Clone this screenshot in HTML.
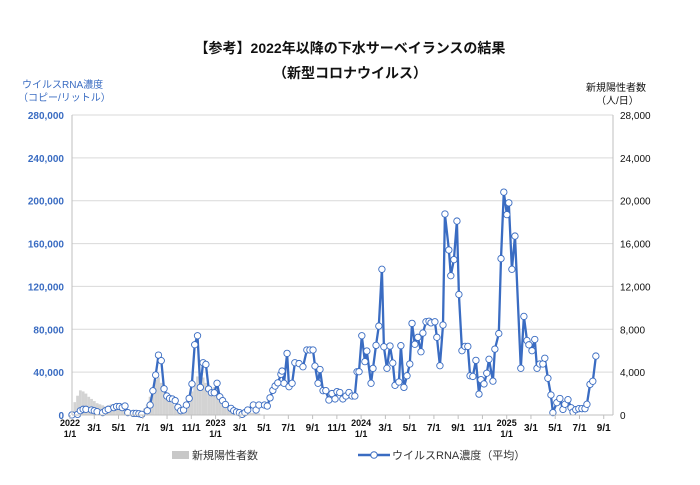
<!DOCTYPE html>
<html><head><meta charset="utf-8">
<style>
body{margin:0;background:#fff;}
svg{display:block;font-family:"Liberation Sans","Noto Sans CJK JP",sans-serif;}
</style></head>
<body>
<svg id="chart" width="700" height="485" viewBox="0 0 700 485">
<text x="350" y="53" text-anchor="middle" font-size="14" font-weight="bold" fill="#111">【参考】2022年以降の下水サーベイランスの結果</text>
<text x="350" y="78" text-anchor="middle" font-size="14" font-weight="bold" fill="#111">（新型コロナウイルス）</text>
<text x="22" y="88" font-size="10" fill="#3a6cc2">ウイルスRNA濃度</text>
<text x="18" y="101" font-size="10" fill="#3a6cc2">（コピー/リットル）</text>
<text x="586" y="91" font-size="10" fill="#111">新規陽性者数</text>
<text x="596" y="104" font-size="10" fill="#111">（人/日）</text>
<g id="grid"></g><g id="bars"></g><g id="line"></g><g id="axes"></g>
<g>
<rect x="172" y="451" width="17" height="8" fill="#c8c8c8"/>
<text x="192" y="459" font-size="11" fill="#333">新規陽性者数</text>
<line x1="358" y1="455" x2="390" y2="455" stroke="#3a6cc2" stroke-width="2.5"/>
<circle cx="374" cy="455" r="3.3" fill="#fff" stroke="#3a6cc2" stroke-width="1"/>
<text x="392" y="459" font-size="11" fill="#333">ウイルスRNA濃度（平均）</text>
</g>
</svg>
<script>
const rnaWeeks=[0,2,3,4,5,7,8,9,11,12,13,15,16,17,18,19,20,22,23,24,25,27,28,29,30,31,32,33,34,35,36,37,38,39,40,41,42,43,44,45,46,47,48,49,50,51,52,53,54,55,57,58,59,60,61,62,63,65,66,67,69,70,71,72,72.8,73.8,74.9,75.3,76,77.1,77.8,78.9,79.9,81.4,82.8,84.2,85.3,86.4,87.1,88.2,88.9,90,91,92.1,93.2,94.3,95,96,97.1,98.2,99.3,100.4,101.4,102.2,102.9,103.9,105,105.7,107.2,107.9,109,110,111.1,111.8,112.9,114,115,115.8,117.2,117.9,119,120.1,121.1,121.9,122.9,124,125.1,125.8,126.9,128,128.7,130.1,130.8,131.9,133,133.7,135.1,135.8,136.9,138,138.7,139.8,140.9,141.9,142.7,143.7,144.8,145.9,146.6,147.7,148.7,149.5,150.9,151.6,153,153.8,154.8,155.9,156.6,157.7,158.8,160.9,162,163.1,163.8,164.9,165.9,166.7,167.7,168.8,169.5,170.6,171.7,172.4,173.8,174.9,176,176.7,177.8,178.9,179.6,180.6,181.7,182.8,183.9,184.6,185.7,186.7,187.8];
const rnaValues=[0.1,0.6,4,5.3,5.3,4.7,4,3.1,2.2,4,5.3,6.9,7.9,7.9,6.9,8.4,2.2,1.5,1.5,1.2,0.6,4,9.3,22.6,37.3,55.9,50.7,24.5,17.7,15.5,14.9,13.4,7.2,4,4.7,9.3,15.5,29,65.6,74,25.8,48.8,47.2,24.3,20.8,20.8,29.6,17,13.4,9.8,6.2,4,2.8,2.2,0.6,2.2,4.7,9.3,4.7,9.3,9.3,8.4,16,23,27,30,38,41,29.6,57.5,26.4,29.6,48.8,48,45,60.7,60.7,60.7,45.7,29.6,42.5,22.7,22.7,14,20,15,21.8,21,15,17.7,21,17.7,17.7,40.4,40.4,74,49.8,59.7,29.6,43.5,65,83,136,63.7,43.6,64.4,48.5,27.7,30.8,64.7,25.8,36.6,47.6,85.5,66,72.5,59,76.5,87,87.5,86,87,72.5,46,84,187.6,154,130,145,181,112.5,60,64,64,36.6,36,51,19.5,33,29,39,52,31.6,61.5,76,146,208,187,198,136,167,43.6,92,69.5,65.5,60,70.5,43.6,47.6,47.6,53,34.3,18.7,2.2,11.5,15.4,5.2,10,14.3,6.8,2.8,5,5.9,5.9,5.9,10,28.6,31.5,55].map(v=>v*1000);
const caseValues=[1200,1800,2300,2200,2000,1700,1500,1300,1100,1000,900,800,900,1000,1000,900,800,700,600,400,300,300,300,300,400,600,1000,1700,2500,3300,3500,3000,2500,1800,1400,1100,900,700,600,700,1000,1500,2200,3000,3600,3700,3500,3000,2500,2200,2600,2400,1800,1300,900,600,500,400,300,300,250,250,250,200,200,200,150];
const leftTicks=[0,40000,80000,120000,160000,200000,240000,280000];
const rightTicks=[0,4000,8000,12000,16000,20000,24000,28000];
const xTickMonths=[0,2,4,6,8,10,12,14,16,18,20,22,24,26,28,30,32,34,36,38,40,42,44];
const xTickLabels=["1/1","3/1","5/1","7/1","9/1","11/1","1/1","3/1","5/1","7/1","9/1","11/1","1/1","3/1","5/1","7/1","9/1","11/1","1/1","3/1","5/1","7/1","9/1"];
const NS="http://www.w3.org/2000/svg";
const L=72,R=613,T=115,B=415;
const xDay=d=>70+d*0.3985;
const xWeek=w=>xDay(5+7*w);
const xMonth=m=>xDay(m*30.44);
const yL=v=>B-v/280000*(B-T);
const yR=v=>B-v/28000*(B-T);
function mk(tag,attrs,parent){const e=document.createElementNS(NS,tag);for(const k in attrs)e.setAttribute(k,attrs[k]);parent.appendChild(e);return e;}
const grid=document.getElementById('grid'),axes=document.getElementById('axes'),bars=document.getElementById('bars'),line=document.getElementById('line');
leftTicks.forEach((v,i)=>{
 if(v>0){const g=mk('line',{x1:L,x2:R,y1:yL(v),y2:yL(v),stroke:'#d9d9d9','stroke-width':1},grid);
 
 }
 const t=mk('text',{x:64,y:yL(v)+4,'text-anchor':'end','font-size':10,'font-weight':'bold',fill:'#3a6cc2'},axes);
 t.textContent=v.toLocaleString('en-US');
 
 
});
rightTicks.forEach(v=>{
 const t=mk('text',{x:620,y:yR(v)+4,'font-size':10,fill:'#111'},axes);
 t.textContent=v.toLocaleString('en-US');
 
 
});
const al=mk('line',{x1:L,x2:L,y1:T,y2:B,stroke:'#bfbfbf'},axes);


const ar=mk('line',{x1:R,x2:R,y1:T,y2:B,stroke:'#bfbfbf'},axes);


const ab=mk('line',{x1:L,x2:R,y1:B,y2:B,stroke:'#bfbfbf'},axes);


xTickMonths.forEach((m,i)=>{
 const x=xMonth(m);
 const tk=mk('line',{x1:x,x2:x,y1:B,y2:B+4,stroke:'#bfbfbf'},axes);
 
 
 if(m%12===0){
  const y=mk('text',{x:x,y:426,'text-anchor':'middle','font-size':9,'font-weight':'bold',fill:'#111'},axes);
  y.textContent=String(2022+m/12);
  
  
  const t=mk('text',{x:x,y:437,'text-anchor':'middle','font-size':9,'font-weight':'bold',fill:'#111'},axes);
  t.textContent=xTickLabels[i];
  
  
 }else{
  const t=mk('text',{x:x,y:431,'text-anchor':'middle','font-size':10,'font-weight':'bold',fill:'#111'},axes);
  t.textContent=xTickLabels[i];
  
  
 }
});
caseValues.forEach((v,i)=>{
 const x=xWeek(i+1);
 const b=mk('rect',{x:x-1.4,y:yR(v),width:2.8,height:B-yR(v),fill:'#d3d3d3'},bars);
 
 
});
const pts=rnaWeeks.map((w,i)=>[xWeek(w),yL(rnaValues[i])]);
const pl=mk('polyline',{points:pts.map(p=>p[0].toFixed(1)+','+p[1].toFixed(1)).join(' '),fill:'none',stroke:'#3a6cc2','stroke-width':2.3,'stroke-linejoin':'round'},line);


pts.forEach(p=>{
 const c=mk('circle',{cx:p[0],cy:p[1],r:3.2,fill:'#fff',stroke:'#3a6cc2','stroke-width':0.9},line);
 
 
});
</script>
</body></html>
